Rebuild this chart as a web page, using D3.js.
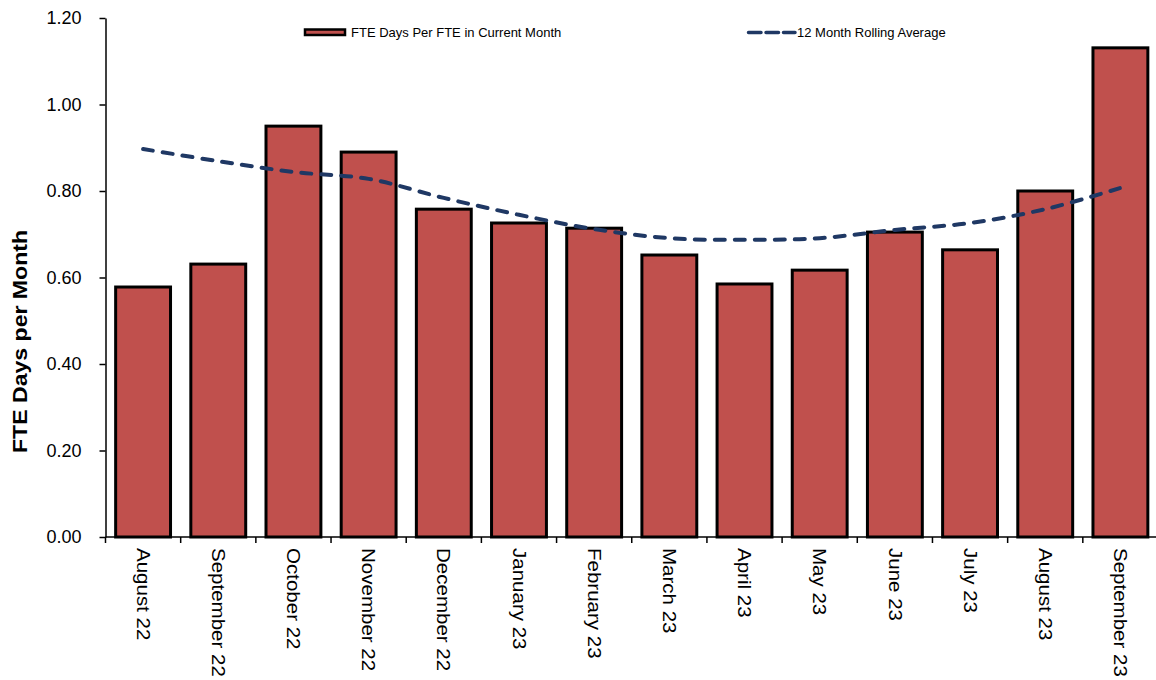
<!DOCTYPE html>
<html>
<head>
<meta charset="utf-8">
<script src="https://cdn.jsdelivr.net/npm/d3@7"></script>
<style>
  body { margin: 0; background: #fff; }
  svg { display: block; font-family: "Liberation Sans", Arial, sans-serif; }
</style>
</head>
<body>
<div id="chart"></div>
<script>
// data
const months = ["August 22", "September 22", "October 22", "November 22", "December 22", "January 23",
  "February 23", "March 23", "April 23", "May 23", "June 23", "July 23", "August 23", "September 23"];
const fteDays = [0.578, 0.631, 0.950, 0.890, 0.758, 0.726, 0.714, 0.652, 0.585, 0.617, 0.705, 0.664, 0.800, 1.131];
const rollingAvg = [0.897, 0.869, 0.844, 0.828, 0.784, 0.745, 0.712, 0.691, 0.687, 0.691, 0.710, 0.726, 0.758, 0.807];
const yTicks = [0, 0.2, 0.4, 0.6, 0.8, 1.0, 1.2];

const width = 1156, height = 680;
const margin = { top: 18, right: -2, bottom: 143, left: 105.5 };

const svg = d3.select("#chart").append("svg")
  .attr("width", width)
  .attr("height", height);

const x = d3.scaleBand()
  .domain(months)
  .range([margin.left, width - margin.right])
  .paddingInner(0.27)
  .paddingOuter(0.135);

const y = d3.scaleLinear()
  .domain([0, 1.2])
  .range([height - margin.bottom, margin.top]);

// bars
svg.append("g")
  .selectAll("rect")
  .data(months)
  .enter().append("rect")
  .attr("x", d => x(d))
  .attr("y", (d, i) => y(fteDays[i]))
  .attr("width", x.bandwidth())
  .attr("height", (d, i) => y(0) - y(fteDays[i]))
  .attr("fill", "#C0504D")
  .attr("stroke", "#000")
  .attr("stroke-width", 3);

// rolling average line
const line = d3.line()
  .x((d, i) => x(months[i]) + x.bandwidth() / 2)
  .y(d => y(d))
  .curve(d3.curveCatmullRom.alpha(0.5));

svg.append("path")
  .datum(rollingAvg)
  .attr("d", line)
  .attr("fill", "none")
  .attr("stroke", "#1F3864")
  .attr("stroke-width", 4)
  .attr("stroke-linecap", "round")
  .attr("stroke-dasharray", "10,10");

// y axis
const yAxis = svg.append("g")
  .attr("transform", `translate(${margin.left},0)`)
  .call(d3.axisLeft(y).tickValues(yTicks).tickFormat(d3.format(".2f")).tickSizeInner(6).tickSizeOuter(0).tickPadding(18));
yAxis.select(".domain").attr("stroke", "#000").attr("stroke-width", 1.5);
yAxis.selectAll(".tick line").attr("stroke", "#000").attr("stroke-width", 1.5);
yAxis.selectAll("text").attr("font-size", 18).attr("fill", "#000")
  .style("font-family", "'Liberation Sans', Arial, sans-serif");

// x axis: baseline, boundary ticks, rotated labels
const xAxis = svg.append("g");
xAxis.append("line")
  .attr("x1", margin.left).attr("x2", width - margin.right)
  .attr("y1", y(0)).attr("y2", y(0))
  .attr("stroke", "#000").attr("stroke-width", 1.5);

const step = x.step();
const bounds = d3.range(months.length + 1).map(i => x(months[0]) - x.paddingInner() * step / 2 + i * step);
xAxis.selectAll(".xt")
  .data(bounds)
  .enter().append("line")
  .attr("x1", d => d).attr("x2", d => d)
  .attr("y1", y(0)).attr("y2", y(0) + 6)
  .attr("stroke", "#000").attr("stroke-width", 1.5);

xAxis.selectAll(".xl")
  .data(months)
  .enter().append("text")
  .attr("transform", d => `translate(${x(d) + x.bandwidth() / 2},${y(0) + 11}) rotate(90) scale(1.14,1)`)
  .attr("dy", "0.35em")
  .attr("text-anchor", "start")
  .attr("font-size", 18)
  .attr("fill", "#000")
  .text(d => d);

// y axis title
svg.append("text")
  .attr("transform", `translate(27,341.5) rotate(-90)`)
  .attr("text-anchor", "middle")
  .attr("font-size", 20.5)
  .attr("font-weight", "bold")
  .attr("textLength", 223)
  .attr("lengthAdjust", "spacingAndGlyphs")
  .text("FTE Days per Month");

// legend
const legend = svg.append("g").attr("font-size", 13).attr("fill", "#000");
legend.append("rect")
  .attr("x", 305).attr("y", 29.5).attr("width", 40).attr("height", 5.5)
  .attr("fill", "#C0504D").attr("stroke", "#000").attr("stroke-width", 2.5);
legend.append("text")
  .attr("x", 351).attr("y", 32).attr("dy", "0.35em")
  .text("FTE Days Per FTE in Current Month");
legend.append("line")
  .attr("x1", 748.5).attr("x2", 795).attr("y1", 32.5).attr("y2", 32.5)
  .attr("stroke", "#1F3864").attr("stroke-width", 3.5)
  .attr("stroke-linecap", "round").attr("stroke-dasharray", "12.5,5");
legend.append("text")
  .attr("x", 797).attr("y", 32).attr("dy", "0.35em")
  .text("12 Month Rolling Average");
</script>
</body>
</html>
